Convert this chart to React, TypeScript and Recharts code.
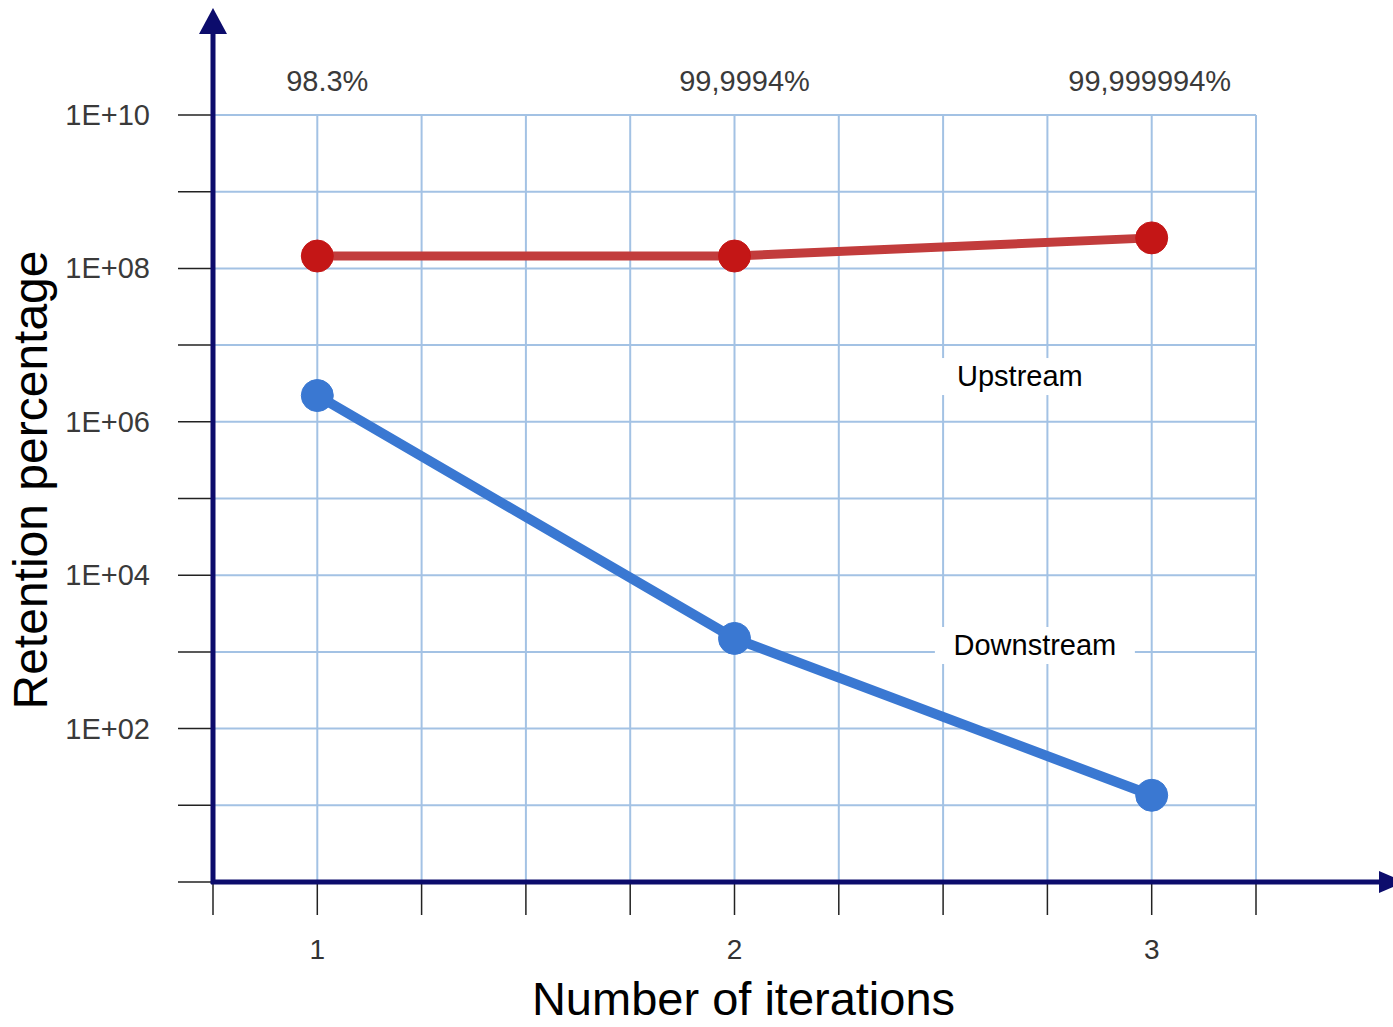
import { LineChart, Line, XAxis, YAxis, CartesianGrid, ReferenceDot } from 'recharts';

// ── data ──
const ITERATIONS = [1, 2, 3];
const UPSTREAM = [1.45e8, 1.45e8, 2.5e8];
const DOWNSTREAM = [2.2e6, 1.5e3, 13.5];
const TOP_LABELS = ['98.3%', '99,9994%', '99,999994%'];
const X_TICKS = [0.75, 1, 1.25, 1.5, 1.75, 2, 2.25, 2.5, 2.75, 3, 3.25];
const Y_TICKS = [1, 1e1, 1e2, 1e3, 1e4, 1e5, 1e6, 1e7, 1e8, 1e9, 1e10];
const SERIES_NOTES = [
  { name: 'Upstream', x: 2.684, y: 3.95e6 },
  { name: 'Downstream', x: 2.72, y: 1.23e3 },
];

const data = ITERATIONS.map((it, i) => ({ it, upstream: UPSTREAM[i], downstream: DOWNSTREAM[i] }));

const W = 1393;
const H = 1027;
const LEFT = 213;
const TOP = 115;
const RIGHT = 137;
const BOTTOM = 145;
const FONT = '"Liberation Sans", Arial, sans-serif';
const NAVY = '#0c0c6c';
const TOP_DX = [10, 10, -2]; // small nudges of the top labels

function fmtY(v: number) {
  const e = Math.round(Math.log10(v));
  if (e <= 0 || e % 2 !== 0) return '';
  return `1E+${String(e).padStart(2, '0')}`;
}

const YTick = ({ x, y, payload }: any) => (
  <text x={x} y={y} dy={10} textAnchor="end" fontSize={29} fill="#3a3a3a" fontFamily={FONT}>
    {fmtY(payload.value)}
  </text>
);

const XTick = ({ x, y, payload }: any) =>
  Number.isInteger(payload.value) ? (
    <text x={x} y={y} dy={44} textAnchor="middle" fontSize={28} fill="#333" fontFamily={FONT}>
      {payload.value}
    </text>
  ) : null;

const TopTick = ({ x, y, payload }: any) => {
  const idx = ITERATIONS.indexOf(payload.value);
  return (
    <text x={x} y={y} dx={TOP_DX[idx] ?? 0} textAnchor="middle" fontSize={29} fill="#3a3a3a" fontFamily={FONT}>
      {TOP_LABELS[idx] ?? ''}
    </text>
  );
};

const NoteShape = (name: string) => ({ cx, cy }: any) => {
  const w = name.length * 16 + 40;
  return (
    <g>
      <rect x={cx - w / 2} y={cy - 18} width={w} height={37} fill="#fff" />
      <text x={cx} y={cy} dy={10} textAnchor="middle" fontSize={29} fill="#000" fontFamily={FONT}>
        {name}
      </text>
    </g>
  );
};

export default function App() {
  return (
    <div style={{ position: 'absolute', left: 0, top: 0, width: W, height: H, background: '#fff' }}>
      <LineChart width={W} height={H} data={data} margin={{ top: 0, right: RIGHT, bottom: 0, left: 0 }}>
        <CartesianGrid stroke="#a3c2e4" strokeWidth={2} />
        <XAxis
          dataKey="it"
          type="number"
          domain={[0.75, 3.25]}
          ticks={X_TICKS}
          height={BOTTOM}
          axisLine={false}
          tickSize={33}
          tickMargin={0}
          tickLine={{ stroke: '#222', strokeWidth: 1.5 }}
          tick={<XTick />}
          interval={0}
          label={{
            content: ({ viewBox }: any) => (
              <text x={viewBox.x + viewBox.width / 2 + 9} y={viewBox.y + 133} textAnchor="middle" fontSize={47} fill="#000" fontFamily={FONT}>
                Number of iterations
              </text>
            ),
          }}
        />
        <XAxis
          xAxisId="top"
          orientation="top"
          dataKey="it"
          type="number"
          domain={[0.75, 3.25]}
          ticks={ITERATIONS}
          height={TOP}
          axisLine={false}
          tickLine={false}
          tickSize={0}
          tickMargin={24}
          tick={<TopTick />}
          interval={0}
        />
        <YAxis
          type="number"
          scale="log"
          domain={[1, 1e10]}
          ticks={Y_TICKS}
          width={LEFT}
          axisLine={false}
          tickSize={35}
          tickMargin={28}
          tickLine={{ stroke: '#222', strokeWidth: 1.5 }}
          tick={<YTick />}
          interval={0}
          allowDataOverflow
          label={{
            content: () => (
              <text
                x={47}
                y={480}
                transform="rotate(-90 47 480)"
                textAnchor="middle"
                fontSize={48}
                fill="#000"
                fontFamily={FONT}
              >
                Retention percentage
              </text>
            ),
          }}
        />
        <Line
          dataKey="upstream"
          stroke="#c23c3c"
          strokeWidth={9}
          dot={{ r: 16, fill: '#c41616', stroke: '#c41616', strokeWidth: 1 }}
          isAnimationActive={false}
        />
        <Line
          dataKey="downstream"
          stroke="#3a78d2"
          strokeWidth={10}
          dot={{ r: 16, fill: '#3a78d2', stroke: '#3a78d2', strokeWidth: 1 }}
          isAnimationActive={false}
        />
        {SERIES_NOTES.map(n => (
          <ReferenceDot key={n.name} x={n.x} y={n.y} r={0} shape={NoteShape(n.name)} />
        ))}
      </LineChart>
      {/* arrowed axes */}
      <svg width={W} height={H} style={{ position: 'absolute', left: 0, top: 0, pointerEvents: 'none' }}>
        <line x1={LEFT} y1={H - BOTTOM + 2} x2={LEFT} y2={30} stroke={NAVY} strokeWidth={5} />
        <polygon points={`${LEFT - 14},34 ${LEFT + 14},34 ${LEFT},8`} fill={NAVY} />
        <line x1={LEFT - 2} y1={H - BOTTOM} x2={W - 14} y2={H - BOTTOM} stroke={NAVY} strokeWidth={5} />
        <polygon points={`${W - 14},${H - BOTTOM - 11} ${W - 14},${H - BOTTOM + 11} ${W + 12},${H - BOTTOM}`} fill={NAVY} />
      </svg>
    </div>
  );
}
